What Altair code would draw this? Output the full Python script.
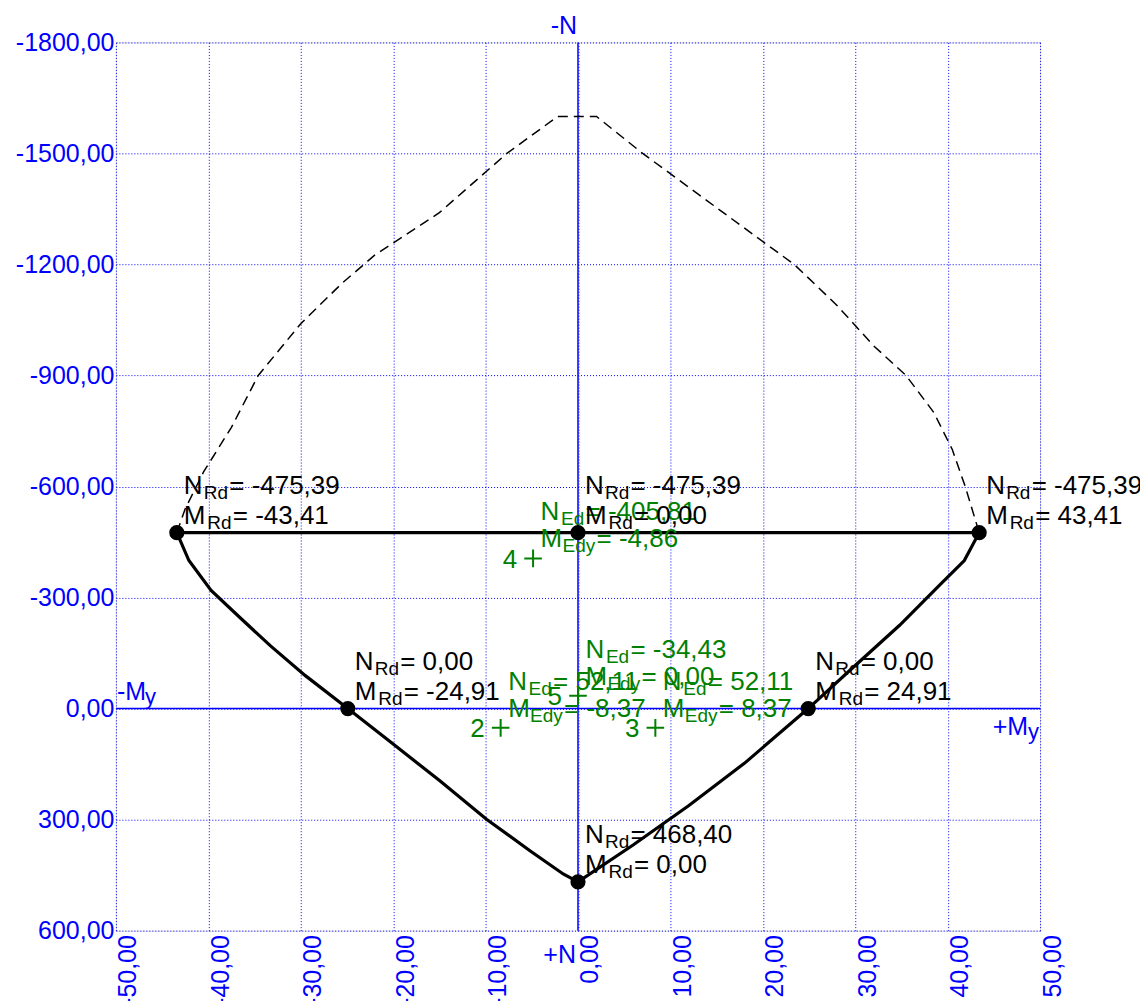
import altair as alt
import pandas as pd

FONT = "Liberation Sans"
BLUE = "#0000ff"
GREEN = "#008000"

# ---- design envelope (solid) : My, N ----
env_M = [-43.41, -42.1, -39.7, -36.5, -33.3, -29.5, -24.91, -20.0, -14.95, -9.9, -5.2, -1.6, 0.00,
         6.0, 12.0, 18.0, 24.91, 29.4, 34.8, 39.1, 41.8, 43.41, 0.00, -43.41]
env_N = [-475.39, -400, -319, -244, -170, -89, 0.00, 96, 195, 299, 384, 447, 468.40,
         368, 262, 148, 0.00, -103, -225, -333, -400, -475.39, -475.39, -475.39]

# ---- full interaction curve (dashed) ----
dash_M = [-43.41, -42.5, -40.5, -37.5, -34.6, -30.0, -25.5, -22.0, -15.0, -7.7, -2.2,
          2.0, 7.0, 13.0, 19.0, 23.4, 28.0, 32.0, 35.5, 38.5, 40.5, 41.9, 43.41]
dash_N = [-475.39, -540, -640, -760, -900, -1040, -1150, -1225, -1340, -1500, -1600,
          -1600, -1500, -1390, -1280, -1200, -1090, -980, -900, -800, -700, -600, -475.39]

# ---- resistance points ----
rd_M = [-43.41, 0.00, 43.41, -24.91, 24.91, 0.00]
rd_N = [-475.39, -475.39, -475.39, 0.00, 0.00, 468.40]

# ---- load cases ----
ed_id = ["2", "3", "4", "5"]
ed_M = [-8.37, 8.37, -4.86, 0.00]
ed_N = [52.11, 52.11, -405.81, -34.43]

x_ticks = [-50, -40, -30, -20, -10, 0, 10, 20, 30, 40, 50]
y_ticks = [-1800, -1500, -1200, -900, -600, -300, 0, 300, 600]


def fmt(v):
    s = f"{abs(v):.2f}".replace(".", ",")
    return ("= -" if v < 0 else "= ") + s


label_expr = "(datum.value < 0 ? '-' : '') + replace(format(abs(datum.value), '.2f'), '.', ',')"

xs = alt.Scale(domain=[-50, 50], nice=False, zero=False)
ys = alt.Scale(domain=[-1800, 600], nice=False, zero=False, reverse=True)

xaxis = alt.Axis(values=x_ticks, labelExpr=label_expr, title=None, grid=True,
                 gridColor=BLUE, gridDash=[1, 2], gridWidth=1, gridOpacity=1,
                 domain=False, ticks=False, tickSize=0, labelAngle=-90,
                 labelAlign="right", labelBaseline="top", labelPadding=4,
                 labelFont=FONT, labelFontSize=25, labelColor=BLUE,
                 labelFlush=False, labelOverlap=False)
yaxis = alt.Axis(values=y_ticks, labelExpr=label_expr, title=None, grid=True,
                 gridColor=BLUE, gridDash=[1, 2], gridWidth=1, gridOpacity=1,
                 domain=False, ticks=False, tickSize=0, labelPadding=2,
                 labelBaseline="middle",
                 labelFont=FONT, labelFontSize=25, labelColor=BLUE,
                 labelFlush=False, labelOverlap=False)

X = alt.X("M:Q", scale=xs, axis=xaxis)
Y = alt.Y("N:Q", scale=ys, axis=yaxis)

env_df = pd.DataFrame({"M": env_M, "N": env_N, "i": list(range(len(env_M)))})
dash_df = pd.DataFrame({"M": dash_M, "N": dash_N, "i": list(range(len(dash_M)))})
rd_df = pd.DataFrame({"M": rd_M, "N": rd_N,
                      "tN": [fmt(v) for v in rd_N], "tM": [fmt(v) for v in rd_M]})
ed_df = pd.DataFrame({"M": ed_M, "N": ed_N, "id": ed_id,
                      "tN": [fmt(v) for v in ed_N], "tM": [fmt(v) for v in ed_M]})

vline = alt.Chart(pd.DataFrame({"M": [0.0], "N": [-1800.0], "N2": [600.0]})).mark_rule(
    color=BLUE, strokeWidth=1.5).encode(x=X, y=Y, y2="N2:Q")
hline = alt.Chart(pd.DataFrame({"M": [-50.0], "M2": [50.0], "N": [0.0]})).mark_rule(
    color=BLUE, strokeWidth=1.5).encode(x=X, x2="M2:Q", y=Y)

dashed = alt.Chart(dash_df).mark_line(color="black", strokeWidth=1.5, strokeDash=[10, 6]).encode(
    x=X, y=Y, order="i:Q")
solid = alt.Chart(env_df).mark_line(color="black", strokeWidth=3.2).encode(
    x=X, y=Y, order="i:Q")
points = alt.Chart(rd_df).mark_circle(size=230, color="black", opacity=1).encode(x=X, y=Y)


def txt(df, text, dx, dy, size, color, align="left"):
    mk = alt.Chart(df).mark_text(align=align, baseline="alphabetic", dx=dx, dy=dy,
                                 fontSize=size, font=FONT, color=color)
    if text.endswith(":N"):
        return mk.encode(x=X, y=Y, text=text)
    return mk.encode(x=X, y=Y, text=alt.value(text))


black_labels = [
    txt(rd_df, "N", 7, -39, 26, "black"),
    txt(rd_df, "Rd", 27, -34, 19, "black"),
    txt(rd_df, "tN:N", 52.5, -39, 26, "black"),
    txt(rd_df, "M", 7, -9, 26, "black"),
    txt(rd_df, "Rd", 30.5, -4, 19, "black"),
    txt(rd_df, "tM:N", 56, -9, 26, "black"),
]

green_labels = [
    txt(ed_df, "N", 7.5, -38, 26, GREEN),
    txt(ed_df, "Ed", 28, -33, 19, GREEN),
    txt(ed_df, "tN:N", 52.5, -38, 26, GREEN),
    txt(ed_df, "M", 7.5, -11, 26, GREEN),
    txt(ed_df, "Edy", 29.5, -6, 19, GREEN),
    txt(ed_df, "tM:N", 63.5, -11, 26, GREEN),
    txt(ed_df, "id:N", -16, 9.5, 26, GREEN, align="right"),
]
ed_marks = alt.Chart(ed_df).mark_point(shape="M-1,0L1,0M0,-1L0,1", size=310, filled=False,
                                       strokeWidth=2, color=GREEN, opacity=1).encode(x=X, y=Y)

# axis direction names
top_df = pd.DataFrame({"M": [0.0], "N": [-1800.0]})
bot_df = pd.DataFrame({"M": [0.0], "N": [600.0]})
left_df = pd.DataFrame({"M": [-50.0], "N": [0.0]})
right_df = pd.DataFrame({"M": [50.0], "N": [0.0]})
axis_names = [
    txt(top_df, "-N", -1, -8, 25, BLUE, align="right"),
    txt(bot_df, "+N", -2, 32, 25, BLUE, align="right"),
    txt(left_df, "-M", 1, -9, 25, BLUE),
    txt(left_df, "y", 29, -5, 22, BLUE),
    txt(right_df, "y", -1, 30, 22, BLUE, align="right"),
    txt(right_df, "+M", -12, 26, 25, BLUE, align="right"),
]

chart = alt.layer(
    vline, hline, dashed, solid, *green_labels, ed_marks, points, *black_labels, *axis_names
).properties(
    width=925, height=889,
    autosize=alt.AutoSizeParams(type="none"),
    padding={"left": 108, "top": 34, "right": 100, "bottom": 80},
).configure_view(stroke=None).configure(background="white")

chart.save("out.html", embed_options={"renderer": "svg", "actions": False})
